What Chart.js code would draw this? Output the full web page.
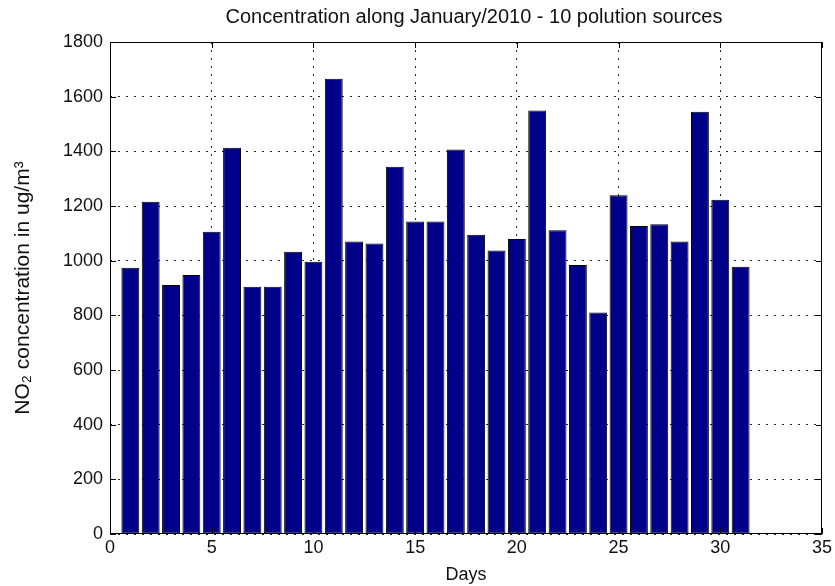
<!DOCTYPE html>
<html>
<head>
<meta charset="utf-8">
<script src="https://cdn.jsdelivr.net/npm/chart.js@4.4.0/dist/chart.umd.min.js"></script>
<style>
  html, body { margin: 0; padding: 0; background: #fff; }
</style>
</head>
<body>
<canvas id="myChart" width="835" height="586"></canvas>
<script>
// data
const days = [1, 2, 3, 4, 5, 6, 7, 8, 9, 10, 11, 12, 13, 14, 15, 16,
  17, 18, 19, 20, 21, 22, 23, 24, 25, 26, 27, 28, 29, 30, 31];
const no2 = [974, 1216, 911, 948, 1106, 1413, 905, 905, 1033, 996, 1666,
  1070, 1063, 1344, 1143, 1143, 1407, 1095, 1037, 1079, 1549, 1111, 984,
  810, 1239, 1127, 1133, 1070, 1545, 1223, 978];
const xTicks = [0, 5, 10, 15, 20, 25, 30, 35];
const yTicks = [0, 200, 400, 600, 800, 1000, 1200, 1400, 1600, 1800];

const titleText = 'Concentration along January/2010 - 10 polution sources';
const xLabel = 'Days';
const yLabel = 'NO\u2082 concentration in ug/m\u00B3';

const font = '"Liberation Sans", Arial, sans-serif';

// box round the plot + inward tick marks + title over the axes, matlab style
const frame = {
  id: 'frame',
  afterDatasetsDraw(chart) {
    const { ctx, chartArea: a, scales: { x, y } } = chart;
    ctx.save();
    ctx.strokeStyle = '#000';
    ctx.lineWidth = 1;
    ctx.strokeRect(a.left + 0.5, a.top + 0.5, a.width - 1, a.height - 1);
    ctx.beginPath();
    xTicks.forEach(v => {
      const px = Math.round(x.getPixelForValue(v)) + 0.5;
      ctx.moveTo(px, a.bottom); ctx.lineTo(px, a.bottom - 6);
      ctx.moveTo(px, a.top); ctx.lineTo(px, a.top + 6);
    });
    yTicks.forEach(v => {
      const py = Math.round(y.getPixelForValue(v)) + 0.5;
      ctx.moveTo(a.left, py); ctx.lineTo(a.left + 6, py);
      ctx.moveTo(a.right, py); ctx.lineTo(a.right - 6, py);
    });
    ctx.stroke();

    ctx.fillStyle = '#111';
    ctx.font = '20px ' + font;
    ctx.textAlign = 'center';
    ctx.textBaseline = 'middle';
    ctx.fillText(titleText, (a.left + a.right) / 2 + 8, 17);
    ctx.restore();
  }
};

const ctx = document.getElementById('myChart');

new Chart(ctx, {
  type: 'bar',
  data: {
    datasets: [{
      label: 'NO2',
      data: days.map((d, i) => ({ x: d, y: no2[i] })),
      backgroundColor: '#000088',
      borderColor: '#000000',
      borderWidth: 1,
      borderSkipped: false,
      barPercentage: 0.88,
      categoryPercentage: 1
    }]
  },
  options: {
    responsive: false,
    animation: false,
    layout: { padding: { left: 0, right: 10, top: 42, bottom: 0 } },
    plugins: {
      legend: { display: false },
      tooltip: { enabled: false },
      title: { display: false }
    },
    scales: {
      x: {
        type: 'linear',
        min: 0,
        max: 35,
        offset: false,
        afterBuildTicks: s => { s.ticks = xTicks.map(v => ({ value: v })); },
        afterFit: s => { s.height = 52; },
        grid: {
          offset: false,
          color: '#222',
          lineWidth: 1,
          drawTicks: false
        },
        border: { display: false, dash: [2, 6] },
        ticks: {
          color: '#111',
          padding: 3,
          font: { family: font, size: 18 },
          callback: v => String(v)
        },
        title: {
          display: true,
          text: xLabel,
          color: '#111',
          padding: { top: 0, bottom: 0 },
          font: { family: font, size: 18 }
        }
      },
      y: {
        min: 0,
        max: 1800,
        afterBuildTicks: s => { s.ticks = yTicks.map(v => ({ value: v })); },
        afterFit: s => { s.width = 110; },
        grid: {
          color: '#222',
          lineWidth: 1,
          drawTicks: false
        },
        border: { display: false, dash: [2, 6] },
        ticks: {
          color: '#111',
          padding: 7,
          font: { family: font, size: 18 },
          callback: v => String(v)
        },
        title: {
          display: true,
          text: yLabel,
          color: '#111',
          padding: { top: 11, bottom: 0 },
          font: { family: font, size: 21 }
        }
      }
    }
  },
  plugins: [frame]
});
</script>
</body>
</html>
